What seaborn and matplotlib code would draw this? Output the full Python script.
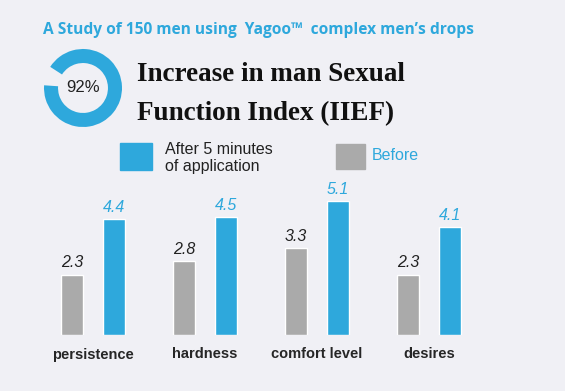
import pandas as pd
import seaborn as sns
import matplotlib.pyplot as plt
from matplotlib.patches import Rectangle

# chart values
categories = ['persistence', 'hardness', 'comfort level', 'desires']
before_vals = [2.3, 2.8, 3.3, 2.3]
after_vals = [4.4, 4.5, 5.1, 4.1]
groups = ['Before', 'After']
ring_pct = 92

BG = '#f0f0f5'
BLUE = '#2ea8dc'
GRAY = '#aaaaaa'
W, H = 565, 391

df = pd.DataFrame({
    'category': categories * 2,
    'group': ['Before'] * 4 + ['After'] * 4,
    'value': before_vals + after_vals,
})

sns.set_style('white')
plt.rcParams['font.family'] = ['Liberation Sans', 'DejaVu Sans']

fig = plt.figure(figsize=(W / 100, H / 100), dpi=100, facecolor=BG)

# bar axes: baseline at y=335px, top at y=180px
ax = fig.add_axes([37 / W, 1 - 335 / H, 448 / W, 155 / H])
ax.set_facecolor(BG)
sns.barplot(data=df, x='category', y='value', hue='group', hue_order=groups,
            palette={'Before': GRAY, 'After': BLUE}, width=0.75, gap=0.47,
            saturation=1, legend=False, ax=ax)
ax.set_xlim(-0.5, 3.5)
ax.set_ylim(0, 5.9)
for c, col in zip(ax.containers, ['#222222', BLUE]):
    ax.bar_label(c, fmt='%.1f', padding=3, fontsize=11.5, style='italic', color=col)
sns.despine(ax=ax, left=True, bottom=True)
ax.set_yticks([])
ax.set_xlabel('')
ax.set_ylabel('')
ax.tick_params(axis='x', length=0, pad=9, labelsize=10.5)
for t in ax.get_xticklabels():
    t.set_fontweight('bold')

# subtitle
fig.text(43 / W, 1 - 30 / H,
         'A Study of 150 men using  Yagoo\u2122  complex men\u2019s drops',
         color=BLUE, fontsize=11.2, fontweight='bold', va='center', ha='left',
         family=['Open Sans', 'DejaVu Sans'])

# title
for txt, base in [('Increase in man Sexual', 81), ('Function Index (IIEF)', 120)]:
    fig.text(137 / W, 1 - base / H, txt, fontsize=19.5, fontweight='bold',
             family=['Liberation Serif'], va='baseline', color='#111111')

# donut
dax = fig.add_axes([44 / W, 1 - 127 / H, 78 / W, 78 / H])
dax.pie([ring_pct, 100 - ring_pct], colors=[BLUE, 'none'], startangle=176,
        radius=1, wedgeprops=dict(width=0.36, edgecolor='none'))
dax.set_xlim(-1, 1)
dax.set_ylim(-1, 1)
dax.set_aspect('equal')
dax.text(0, 0, f'{ring_pct}%', ha='center', va='center', fontsize=12, color='#222222')

# legend
fig.patches.append(Rectangle((120 / W, 1 - 170 / H), 32 / W, 27 / H,
                             transform=fig.transFigure, color=BLUE))
fig.text(165 / W, 1 - 158 / H, 'After 5 minutes\nof application', fontsize=11.5,
         color='#222222', va='center', ha='left', linespacing=1.15)
fig.patches.append(Rectangle((336 / W, 1 - 169 / H), 29 / W, 25 / H,
                             transform=fig.transFigure, color=GRAY))
fig.text(372 / W, 1 - 156 / H, 'Before', fontsize=11.5, color=BLUE,
         va='center', ha='left')

fig.savefig('out.png', dpi=100, facecolor=BG)
